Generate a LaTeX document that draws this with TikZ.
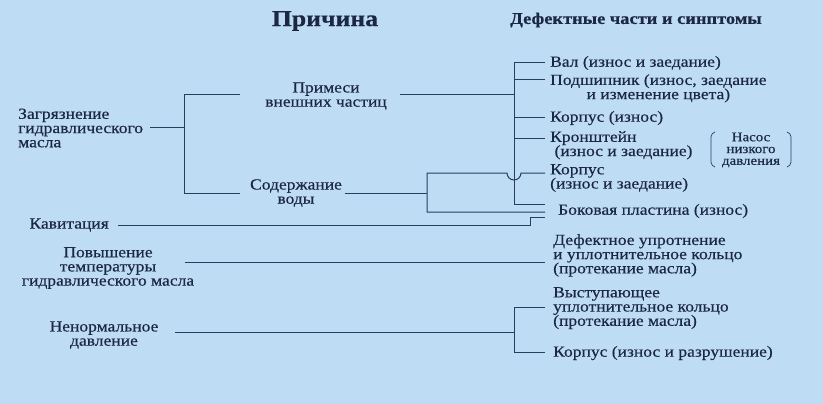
\documentclass[tikz,border=0pt]{standalone}
\usepackage{fontspec}
\setmainfont[FakeStretch=1.13,FakeBold=0.4]{Liberation Serif}
\definecolor{bg}{HTML}{BEDDF5}
\definecolor{ink}{HTML}{1C2742}
\definecolor{wire}{HTML}{2A3D5A}
\begin{document}
\begin{tikzpicture}[x=1pt,y=-1pt,
  txt/.style={text=ink, inner sep=2pt, font=\fontsize{15.5}{14.2}\selectfont},
  head/.style={text=ink, inner sep=0pt},
  wr/.style={draw=wire, line width=1pt},
  br/.style={draw=wire, line width=0.7pt}]
\fill[bg] (0,0) rectangle (823,404);
\useasboundingbox (0,0) rectangle (823,404);
% headings
\node[head, font=\fontsize{22.8}{24}\selectfont\bfseries] (h1) at (325,21) {Причина};
\node[head, font=\fontsize{16.3}{18}\selectfont\bfseries] (h2) at (636,20) {Дефектные части и синптомы};
% causes
\node[txt, anchor=west, align=left] (zag) at (16,128) {Загрязнение\\гидравлического\\масла};
\node[txt, align=center] (pri) at (326,96) {Примеси\\внешних частиц};
\node[txt, align=center] (vod) at (296,193) {Содержание\\воды};
\node[txt, anchor=east] (kav) at (111,225) {Кавитация};
\node[txt, align=center] (pov) at (108,268) {Повышение\\температуры\\гидравлического масла};
\node[txt, align=center] (nen) at (104,335) {Ненормальное\\давление};
% effects
\node[txt, anchor=west] (val) at (548,63) {Вал (износ и заедание)};
\node[txt, anchor=north west, align=center] (pod) at (548,72) {Подшипник (износ, заедание\\и изменение цвета)};
\node[txt, anchor=west] (kor1) at (548,118) {Корпус (износ)};
\node[txt, anchor=north west, align=left] (kro) at (548,129) {Кронштейн\\\ (износ и заедание)};
\node[txt, anchor=north west, align=left] (kor2) at (548,162) {Корпус\\(износ и заедание)};
\node[txt, anchor=west] (bok) at (556,211) {Боковая пластина (износ)};
\node[txt, anchor=north west, align=left] (def) at (551,232) {Дефектное упротнение\\и уплотнительное кольцо\\(протекание масла)};
\node[txt, anchor=north west, align=left] (vys) at (551,285) {Выступающее\\уплотнительное кольцо\\(протекание масла)};
\node[txt, anchor=west] (kor3) at (551,353) {Корпус (износ и разрушение)};
\node[txt, align=center, font=\fontsize{13.2}{11.8}\selectfont] (nas) at (751,150) {Насос\\низкого\\давления};
% braces
\draw[br] (715,132) to[out=200,in=90] (711,137) -- (711,162) to[out=-90,in=160] (715,167);
\draw[br] (787,132) to[out=-20,in=90] (791,137) -- (791,162) to[out=-90,in=20] (787,167);
% junction coordinates
\coordinate (zt) at (184,95);
\coordinate (zm) at (184,128);
\coordinate (zb) at (184,193);
\coordinate (zagE) at (150,128);
\coordinate (ztE) at (240,95);
\coordinate (zbE) at (240,193);
\coordinate (priE) at (400,95);
\coordinate (vodW) at (345,193);
\coordinate (tT) at (514,63);
\coordinate (tP) at (514,95);
\coordinate (tB) at (514,204);
\coordinate (wT) at (427,173);
\coordinate (wM) at (427,193);
\coordinate (wB) at (427,212);
\coordinate (kavE) at (118,225);
\coordinate (kS) at (530,225);
\coordinate (kU) at (530,217);
\coordinate (povW) at (185,262);
\coordinate (nenW) at (175,332);
\coordinate (nT) at (514,307);
\coordinate (nM) at (514,332);
\coordinate (nB) at (514,352);
\coordinate (rx1) at (545,63);
\coordinate (rx2) at (545,80);
\coordinate (rx3) at (545,118);
\coordinate (rx4) at (545,139);
\coordinate (rx5) at (545,173);
\coordinate (rx6) at (545,204);
\coordinate (rx7) at (545,212);
\coordinate (rx8) at (545,217);
\coordinate (rx9) at (545,262);
\coordinate (rx10) at (545,307);
\coordinate (rx11) at (545,352);
% contamination tree
\draw[wr] (zagE) -- (zm);
\draw[wr] (ztE) -- (zt) -- (zb) -- (zbE);
\draw[wr] (priE) -- (tP);
\draw[wr] (tT) -- (tB) -- (rx6);
\draw[wr] (tT) -- (rx1);
\draw[wr] (514,80) -- (rx2);
\draw[wr] (514,118) -- (rx3);
\draw[wr] (514,139) -- (rx4);
% water
\draw[wr] (vodW) -- (wM);
\draw[wr] (rx7) -- (wB) -- (wT) -- (507,173) arc[start angle=180, end angle=0, radius=7] -- (rx5);
% cavitation
\draw[wr] (kavE) -- (kS) -- (kU) -- (rx8);
% temperature
\draw[wr] (povW) -- (rx9);
% abnormal pressure
\draw[wr] (nenW) -- (nM);
\draw[wr] (rx10) -- (nT) -- (nB) -- (rx11);
\end{tikzpicture}
\end{document}
